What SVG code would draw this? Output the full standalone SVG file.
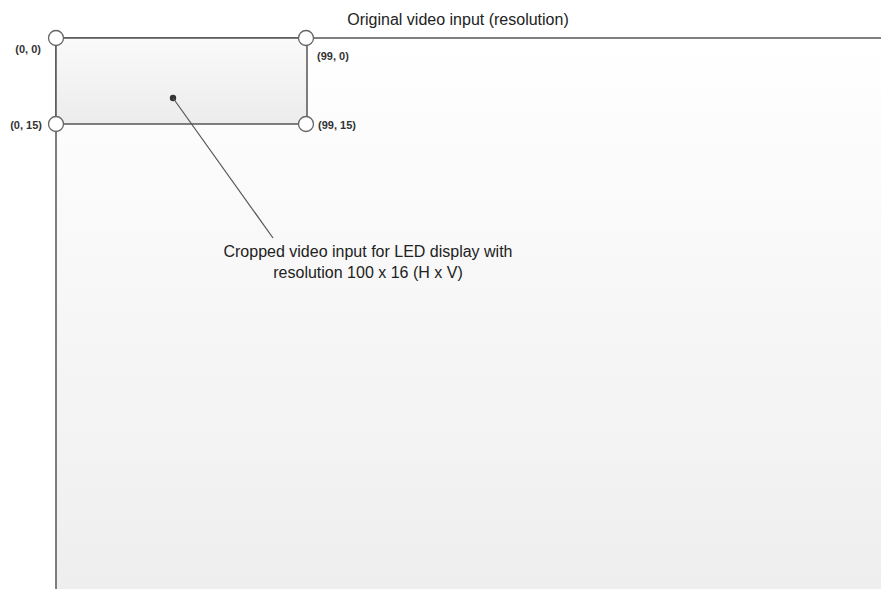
<svg xmlns="http://www.w3.org/2000/svg" width="881" height="589" viewBox="0 0 881 589">
<defs>
<linearGradient id="bg" x1="0" y1="0" x2="0" y2="1">
<stop offset="0" stop-color="#ffffff"/>
<stop offset="1" stop-color="#eeeeee"/>
</linearGradient>
<linearGradient id="crop" x1="0" y1="0" x2="0" y2="1">
<stop offset="0" stop-color="#fafafa"/>
<stop offset="1" stop-color="#ececec"/>
</linearGradient>
<style>
.edge{stroke:#555;stroke-width:1.5;fill:none}
.pt{fill:#fff;stroke:#666;stroke-width:1.3}
.lbl{font-family:"Liberation Sans",Arial,sans-serif;font-size:16px;fill:#222}
.co{font-family:"Liberation Sans",Arial,sans-serif;font-size:11px;font-weight:bold;fill:#333}
</style>
</defs>
<rect width="881" height="589" fill="#fff"/>
<g id="original">
<rect x="56" y="38" width="835" height="560" fill="url(#bg)"/>
<line class="edge" x1="56" y1="38" x2="881" y2="38"/>
<line class="edge" x1="56" y1="38" x2="56" y2="589"/>
<text class="lbl" x="458" y="25" text-anchor="middle">Original video input (resolution)</text>
</g>
<g id="cropped">
<rect x="56" y="38" width="251" height="86" fill="url(#crop)" stroke="#555" stroke-width="1.5"/>
<circle cx="173" cy="98" r="3.2" fill="#333"/>
</g>
<g id="connectors">
<line x1="173" y1="98" x2="273" y2="238" stroke="#555" stroke-width="1.2"/>
</g>
<g id="corner-00">
<circle class="pt" cx="56" cy="38" r="7.5"/>
<text class="co" x="41" y="53" text-anchor="end">(0, 0)</text>
</g>
<g id="corner-990">
<circle class="pt" cx="306" cy="38" r="7.5"/>
<text class="co" x="317" y="60">(99, 0)</text>
</g>
<g id="corner-015">
<circle class="pt" cx="56" cy="124" r="7.5"/>
<text class="co" x="42" y="129" text-anchor="end">(0, 15)</text>
</g>
<g id="corner-9915">
<circle class="pt" cx="306" cy="124" r="7.5"/>
<text class="co" x="318" y="129">(99, 15)</text>
</g>
<g id="caption">
<text class="lbl" x="368" y="257" text-anchor="middle">Cropped video input for LED display with</text>
<text class="lbl" x="368" y="278" text-anchor="middle">resolution 100 x 16 (H x V)</text>
</g>
</svg>
